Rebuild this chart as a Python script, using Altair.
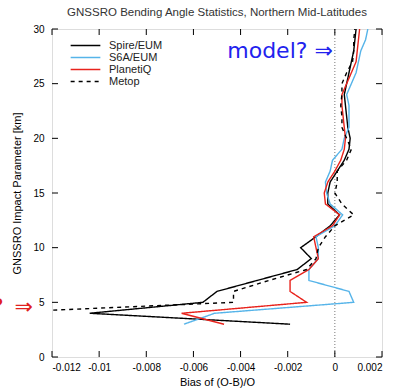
import altair as alt
import pandas as pd

# Impact-parameter levels (km) and mean normalised bending-angle bias per mission
km = list(range(3, 31))
spire = [-0.0019, -0.0104, -0.0056, -0.0050, -0.0033, -0.0016, -0.0010, -0.00145,
         -0.0008, -0.0002, 0.0002, -0.0003, -0.0003, -0.0002, 0.0001, 0.0004,
         0.0006, 0.00065, 0.00055, 0.0005, 0.00045, 0.0004, 0.0005, 0.0006,
         0.0007, 0.0008, 0.00085, 0.0009]
s6a = [-0.0064, -0.0051, 0.0008, 0.0006, -0.0011, -0.0011, -0.0007, -0.0007,
       -0.0008, 0.0, 0.00033, -0.0002, -0.00035, -0.0004, -0.0002, -0.0001,
       0.0003, 0.0004, 0.0006, 0.0006, 0.0006, 0.0005, 0.0007, 0.0009,
       0.0010, 0.0011, 0.0013, 0.0014]
planetiq = [-0.0047, -0.0065, -0.0012, -0.0019, -0.0019, -0.0011, -0.0007, -0.0008,
            -0.0009, -0.0001, 0.0002, -0.0004, -0.00045, -0.0003, 0.0, 0.00025,
            0.0004, 0.00045, 0.0004, 0.00035, 0.0003, 0.0003, 0.0005, 0.0007,
            0.0009, 0.00095, 0.0010, 0.00105]
metop_km = list(range(4, 31))
metop = [-0.0150, -0.0043, -0.0043, -0.0028, -0.0012, -0.0008, -0.0007, -0.0004,
         0.0, 0.0008, 0.0003, 0.0, 0.0001, 0.0001, 0.0005, 0.0007,
         0.0005, 0.0003, 0.0003, 0.00025, 0.0003, 0.0003, 0.0005, 0.00075,
         0.0008, 0.0008, 0.00085]

series_names = ["Spire/EUM", "S6A/EUM", "PlanetiQ", "Metop"]
series_colors = ["#000000", "#56b4e9", "#e8231c", "#000000"]
series_dashes = [[1, 0], [1, 0], [1, 0], [4, 4]]

x_ticks = [-0.012, -0.010, -0.008, -0.006, -0.004, -0.002, 0.0, 0.002]
y_ticks = [0, 5, 10, 15, 20, 25, 30]

rows = []
for name, levels, vals in [("Spire/EUM", km, spire), ("S6A/EUM", km, s6a),
                           ("PlanetiQ", km, planetiq), ("Metop", metop_km, metop)]:
    for k, v in zip(levels, vals):
        rows.append({"km": k, "bias": v, "series": name})
df = pd.DataFrame(rows)

W, H = 330, 328
FONT = "Liberation Sans"

x_scale = alt.Scale(domain=[-0.012, 0.002], nice=False, zero=False)
y_scale = alt.Scale(domain=[0, 30], nice=False, zero=False)

# wide horizontal stroke as legend key, kept on a compact row height
legend_cfg = dict(title=None, orient="none", legendX=27, legendY=10,
                  symbolType="M-2.7,0H2.7", symbolSize=121, symbolStrokeWidth=1.5,
                  symbolFillColor="transparent",
                  labelFont=FONT, labelFontSize=11, labelColor="#222",
                  labelOffset=17, rowPadding=-0.5, padding=0)

lines = alt.Chart(df).mark_line(strokeWidth=1.4, clip=True).encode(
    x=alt.X("bias:Q", scale=x_scale,
            axis=alt.Axis(values=x_ticks, title="Bias of (O-B)/O", tickSize=0,
                          domain=False, grid=False, labelExpr="'' + datum.value",
                          labelPadding=5, titlePadding=4, titleFontWeight="normal")),
    y=alt.Y("km:Q", scale=y_scale,
            axis=alt.Axis(values=y_ticks, title="GNSSRO Impact Parameter [km]",
                          tickSize=0, domain=False, grid=False,
                          labelPadding=8, titlePadding=10, titleFontWeight="normal")),
    color=alt.Color("series:N", sort=series_names,
                    scale=alt.Scale(domain=series_names, range=series_colors),
                    legend=alt.Legend(**legend_cfg)),
    strokeDash=alt.StrokeDash("series:N", sort=series_names,
                              scale=alt.Scale(domain=series_names, range=series_dashes),
                              legend=alt.Legend(**legend_cfg)),
    order=alt.Order("km:Q"),
)

# dotted zero-bias reference line
zero_df = pd.DataFrame({"bias": [0.0]})
zero_line = alt.Chart(zero_df).mark_rule(color="#555", strokeWidth=0.8,
                                         strokeDash=[1, 2]).encode(
    x=alt.X("bias:Q", scale=x_scale))

# inward-pointing ticks on all four sides of the frame
xt_df = pd.DataFrame({"v": x_ticks})
yt_df = pd.DataFrame({"v": y_ticks})
tick_style = dict(color="#000", strokeWidth=1)
x_bottom = alt.Chart(xt_df).mark_rule(**tick_style).encode(
    x=alt.X("v:Q", scale=x_scale), y=alt.value(H), y2=alt.value(H - 6))
x_top = alt.Chart(xt_df).mark_rule(**tick_style).encode(
    x=alt.X("v:Q", scale=x_scale), y=alt.value(0), y2=alt.value(6))
y_left = alt.Chart(yt_df).mark_rule(**tick_style).encode(
    y=alt.Y("v:Q", scale=y_scale), x=alt.value(0), x2=alt.value(6))
y_right = alt.Chart(yt_df).mark_rule(**tick_style).encode(
    y=alt.Y("v:Q", scale=y_scale), x=alt.value(W), x2=alt.value(W - 6))

# question annotations
model_df = pd.DataFrame({"bias": [0.0], "km": [28.0], "label": ["model? \u21d2"]})
model_txt = alt.Chart(model_df).mark_text(
    align="right", baseline="middle", dx=-2, font="DejaVu Sans", fontSize=22,
    color="#2222ee").encode(
    x=alt.X("bias:Q", scale=x_scale), y=alt.Y("km:Q", scale=y_scale), text="label:N")

obs_df = pd.DataFrame({"bias": [-0.012], "km": [4.6], "label": ["obs?\u2002\u21d2"]})
obs_txt = alt.Chart(obs_df).mark_text(
    align="right", baseline="middle", dx=-19, font="DejaVu Sans", fontSize=22,
    color="#e02020", clip=False).encode(
    x=alt.X("bias:Q", scale=x_scale), y=alt.Y("km:Q", scale=y_scale), text="label:N")

chart = alt.layer(
    zero_line, lines, x_bottom, x_top, y_left, y_right, model_txt, obs_txt
).properties(
    width=W, height=H,
    title=alt.TitleParams("GNSSRO Bending Angle Statistics, Northern Mid-Latitudes",
                          font=FONT, fontSize=11.5, fontWeight="normal",
                          color="#333", offset=6, anchor="middle"),
    autosize=alt.AutoSizeParams(type="none"),
    padding={"left": 52, "top": 29, "right": 16, "bottom": 35},
).configure_view(
    stroke="#000", strokeWidth=1.3
).configure_axis(
    labelFont=FONT, labelFontSize=11, labelColor="#222",
    titleFont=FONT, titleFontSize=11, titleFontWeight="normal", titleColor="#222",
).configure(background="white")

chart.save("out.html", embed_options={"renderer": "svg", "actions": False})
